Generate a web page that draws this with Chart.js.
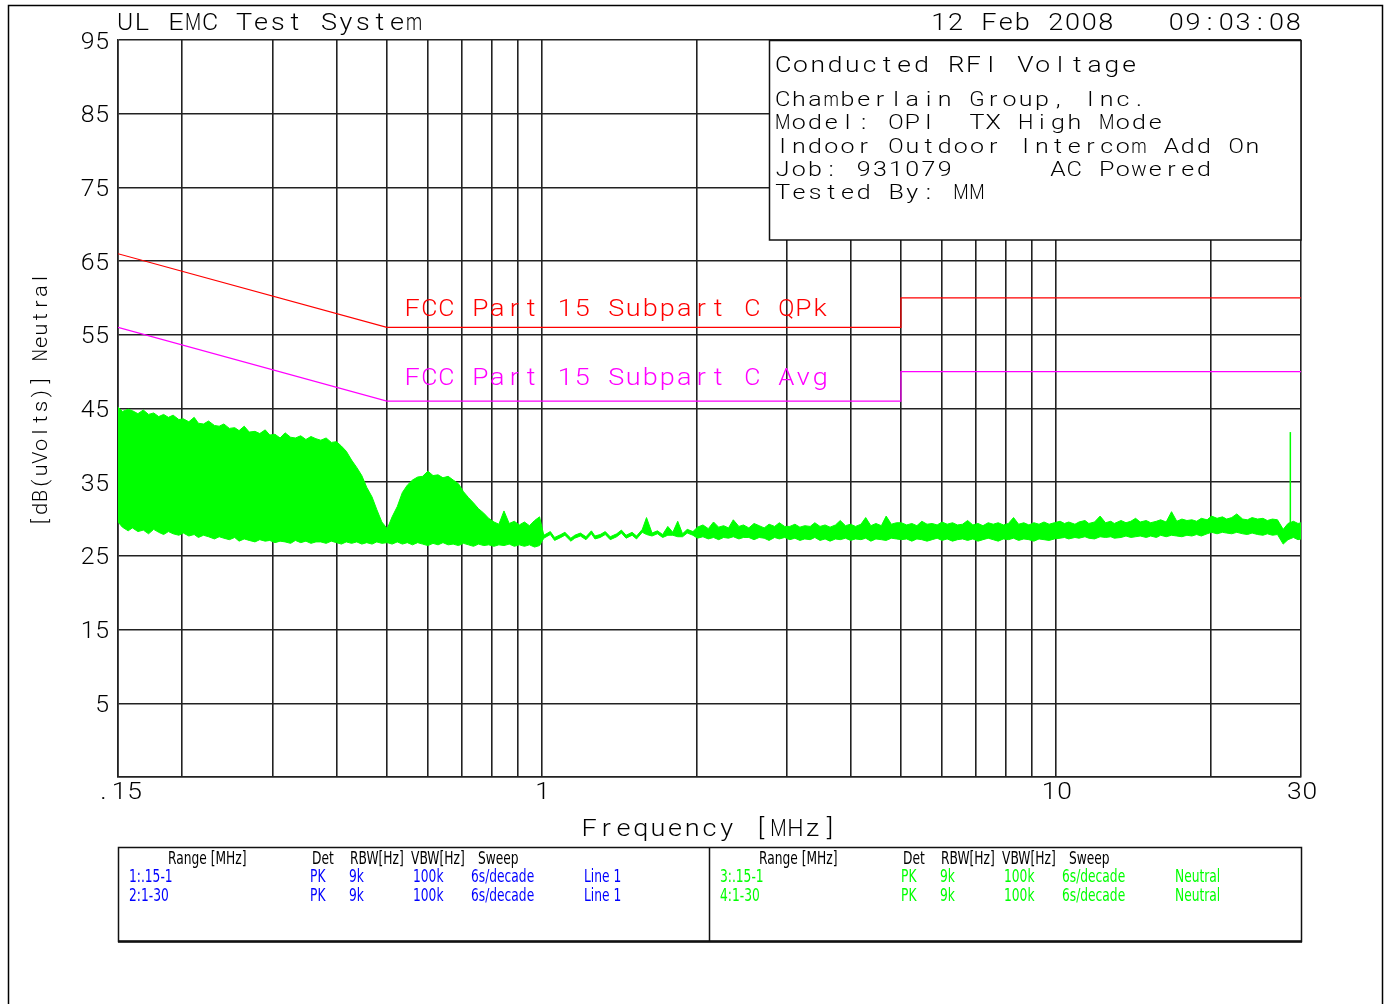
<!DOCTYPE html>
<html>
<head>
<meta charset="utf-8">
<title>Conducted RFI Voltage - Neutral</title>
<script src="https://cdn.jsdelivr.net/npm/chart.js@4.4.1/dist/chart.umd.min.js"></script>
<style>
  html, body { margin: 0; padding: 0; background: #fff; }
  canvas { display: block; }
</style>
</head>
<body>
<canvas id="emc" width="1393" height="1004"></canvas>
<script>
// ---- Scan data: neutral line, peak detector, envelope of the sweep (MHz / dBuV) ----
const freqMHz = [
  0.150, 0.153, 0.157, 0.160, 0.164, 0.168, 0.172, 0.176, 0.180, 0.184,
  0.188, 0.192, 0.197, 0.201, 0.206, 0.211, 0.215, 0.220, 0.225, 0.231,
  0.236, 0.241, 0.247, 0.253, 0.258, 0.264, 0.270, 0.277, 0.283, 0.290,
  0.296, 0.303, 0.310, 0.317, 0.325, 0.332, 0.340, 0.348, 0.356, 0.364,
  0.372, 0.381, 0.390, 0.399, 0.408, 0.417, 0.427, 0.437, 0.447, 0.457,
  0.468, 0.478, 0.489, 0.501, 0.512, 0.524, 0.536, 0.548, 0.561, 0.574,
  0.587, 0.601, 0.615, 0.629, 0.643, 0.658, 0.673, 0.689, 0.705, 0.721,
  0.737, 0.754, 0.772, 0.789, 0.808, 0.826, 0.845, 0.865, 0.885, 0.905,
  0.926, 0.947, 0.969, 0.991,
  1.01, 1.04, 1.06, 1.09, 1.11, 1.14, 1.16, 1.19, 1.22, 1.25,
  1.27, 1.30, 1.33, 1.36, 1.40, 1.43, 1.46, 1.50, 1.53, 1.57,
  1.60, 1.64, 1.68, 1.72, 1.76, 1.80, 1.84, 1.88, 1.92, 1.97,
  2.01, 2.06, 2.11, 2.16, 2.21, 2.26, 2.31, 2.36, 2.42, 2.47,
  2.53, 2.59, 2.65, 2.71, 2.77, 2.84, 2.90, 2.97,
  3.04, 3.11, 3.18, 3.25, 3.33, 3.40, 3.48, 3.56, 3.64, 3.73,
  3.81, 3.90, 3.99, 4.08, 4.18, 4.27, 4.37, 4.47, 4.58, 4.68,
  4.79, 4.90,
  5.01, 5.13, 5.25, 5.37, 5.49, 5.62, 5.75, 5.88, 6.01, 6.15,
  6.30, 6.44, 6.59, 6.74, 6.90, 7.06, 7.22, 7.39, 7.56, 7.73,
  7.91, 8.09, 8.28, 8.47, 8.67, 8.87, 9.07, 9.28, 9.49, 9.71,
  9.94,
  10.2, 10.4, 10.6, 10.9, 11.1, 11.4, 11.6, 11.9, 12.2, 12.5,
  12.8, 13.0, 13.4, 13.7, 14.0, 14.3, 14.6, 15.0, 15.3, 15.7,
  16.0, 16.4, 16.8, 17.2, 17.6, 18.0, 18.4, 18.8, 19.2, 19.7,
  20.1, 20.6, 21.1, 21.5, 22.0, 22.5, 23.1, 23.6, 24.1, 24.7,
  25.3, 25.8, 26.4, 27.0, 27.7, 28.3, 29.0, 29.6, 30.0
];

// upper edge of the peak sweep
const neutralHigh = [
  45.2, 44.6, 44.9, 44.7, 44.3, 44.8, 44.2, 44.4, 43.9, 44.2,
  43.8, 44.1, 43.5, 43.6, 43.2, 43.8, 43.0, 42.9, 43.3, 42.7,
  42.6, 42.9, 42.3, 42.4, 42.0, 42.6, 41.8, 41.9, 41.6, 42.1,
  41.4, 41.5, 41.0, 41.7, 41.1, 41.0, 41.3, 40.8, 41.2, 40.9,
  40.7, 41.0, 40.4, 40.5, 39.9, 39.2, 38.0, 37.0, 35.9, 34.3,
  33.0, 31.3, 29.6, 28.7, 30.3, 31.7, 33.6, 34.6, 35.3, 35.7,
  35.8, 36.5, 35.9, 36.0, 35.6, 35.8, 35.3, 34.8, 33.7, 32.9,
  32.2, 31.4, 30.8, 30.1, 29.6, 29.3, 31.1, 29.4, 29.7, 29.2,
  29.6, 29.1, 29.8, 30.3,
  27.8, 28.3, 27.5, 27.9, 28.2, 27.4, 27.8, 28.1, 27.6, 28.4,
  27.7, 27.9, 28.3, 27.6, 28.0, 28.5, 27.8, 28.2, 27.7, 28.6,
  30.2, 28.1, 28.4, 27.9, 29.0, 28.2, 29.7, 28.0, 28.6, 28.3,
  28.9, 29.2, 28.7, 29.6, 28.9, 29.1, 28.8, 29.9, 29.0, 29.2,
  28.8, 29.4, 29.1, 28.8, 29.3, 29.0, 29.5, 29.0,
  29.0, 29.3, 28.9, 29.1, 29.0, 29.5, 29.0, 29.2, 28.9, 29.2,
  29.8, 29.1, 29.3, 29.0, 29.3, 30.2, 29.1, 29.4, 29.1, 30.4,
  29.3, 29.5,
  29.5, 29.2, 29.4, 29.1, 29.7, 29.3, 29.4, 29.2, 29.6, 29.3,
  29.5, 29.2, 29.3, 29.8, 29.2, 29.4, 29.1, 29.5, 29.3, 29.5,
  29.2, 29.4, 30.2, 29.3, 29.5, 29.2, 29.5, 29.3, 29.6, 29.3,
  29.5,
  29.7, 29.4, 29.6, 29.3, 29.6, 29.8, 29.4, 29.6, 30.4, 29.5,
  29.7, 29.4, 29.8, 29.5, 29.7, 30.1, 29.6, 29.8, 29.5, 29.7,
  29.9, 29.6, 31.0, 29.7, 30.0, 29.8, 29.9, 29.7, 30.1, 29.9,
  30.4, 30.1, 30.3, 30.0, 30.2, 30.7, 30.0, 29.9, 30.2, 30.0,
  30.1, 29.8, 30.0, 29.9, 28.6, 29.4, 29.7, 29.4, 29.5
];

// lower edge of the peak sweep
const neutralLow = [
  29.6, 28.9, 28.4, 28.8, 28.3, 28.5, 28.0, 28.6, 28.2, 27.9,
  28.3, 28.0, 27.8, 28.1, 27.7, 27.9, 27.5, 27.8, 27.6, 27.3,
  27.6, 27.4, 27.2, 27.5, 27.0, 27.3, 27.1, 26.9, 27.2, 27.0,
  27.1, 26.8, 27.0, 26.9, 26.7, 27.1, 26.8, 27.0, 26.7, 26.9,
  26.9, 26.7, 27.0, 26.8, 26.6, 26.9, 26.7, 26.9, 26.6, 26.8,
  26.6, 26.9, 26.7, 26.8, 26.6, 26.9, 26.6, 26.8, 26.5, 26.8,
  26.6, 26.4, 26.7, 26.5, 26.8, 26.5, 26.6, 26.4, 26.7, 26.5,
  26.3, 26.6, 26.4, 26.5, 26.3, 26.5, 26.4, 26.6, 26.3, 26.5,
  26.3, 26.5, 26.2, 26.4,
  27.4, 27.9, 27.1, 27.5, 27.8, 27.0, 27.4, 27.7, 27.2, 28.0,
  27.3, 27.5, 27.9, 27.2, 27.6, 28.1, 27.4, 27.8, 27.3, 28.2,
  27.9, 27.7, 28.0, 27.5, 27.8, 27.8, 27.6, 27.6, 28.1, 27.8,
  27.4, 27.6, 27.3, 27.5, 27.2, 27.5, 27.4, 27.6, 27.3, 27.5,
  27.5, 27.2, 27.5, 27.4, 27.1, 27.5, 27.3, 27.5,
  27.2, 27.4, 27.1, 27.3, 27.2, 27.5, 27.1, 27.3, 27.0, 27.3,
  27.2, 27.4, 27.1, 27.3, 27.2, 27.4, 27.0, 27.3, 27.2, 27.1,
  27.4, 27.3,
  27.2, 27.3, 27.0, 27.3, 27.2, 27.0, 27.2, 27.4, 27.1, 27.3,
  27.0, 27.2, 27.3, 27.1, 27.3, 27.0, 27.2, 27.4, 27.2, 27.0,
  27.3, 27.2, 27.4, 27.1, 27.3, 27.2, 27.0, 27.3, 27.2, 27.1,
  27.3,
  27.4, 27.5, 27.3, 27.5, 27.4, 27.6, 27.4, 27.3, 27.6, 27.5,
  27.6, 27.4, 27.5, 27.7, 27.5, 27.6, 27.7, 27.5, 27.7, 27.5,
  27.8, 27.6, 27.8, 27.7, 27.6, 27.8, 27.7, 27.9, 27.7, 28.0,
  28.2, 28.0, 28.2, 28.1, 28.0, 28.2, 28.0, 27.9, 28.1, 27.9,
  27.8, 28.0, 27.8, 27.9, 26.6, 27.2, 27.5, 27.2, 27.3
];

// narrow carrier spike near the top of the band
const spikeFreq = [28.6, 28.6];
const spikeLevel = [28.0, 41.8];

// ---- Limit lines ----
const limitFreq = [0.15, 0.5, 5, 5, 30];
const qpkLimit = [66, 56, 56, 60, 60];
const avgLimit = [56, 46, 46, 50, 50];

// ---- Axes ----
const yTickValues = [-5, 5, 15, 25, 35, 45, 55, 65, 75, 85, 95];
const xGridFreqs = [0.15, 0.2, 0.3, 0.4, 0.5, 0.6, 0.7, 0.8, 0.9, 1,
                    2, 3, 4, 5, 6, 7, 8, 9, 10, 20, 30];
const xTickFreqs = [0.15, 1, 10, 30];
const xTickLabels = ['.15', '1', '10', '30'];

// ---- Header / info text ----
const headerLeft = 'UL EMC Test System';
const headerDate = '12 Feb 2008';
const headerTime = '09:03:08';
const infoTitle = 'Conducted RFI Voltage';
const infoLines = [
  'Chamberlain Group, Inc.',
  'Model: OPI  TX High Mode',
  'Indoor Outdoor Intercom Add On',
  'Job: 931079      AC Powered',
  'Tested By: MM'
];
const yTitle = '[dB(uVolts)] Neutral';
const xTitle = 'Frequency [MHz]';
const qpkLabel = 'FCC Part 15 Subpart C QPk';
const avgLabel = 'FCC Part 15 Subpart C Avg';

// ---- Scan settings table ----
const tableHeader = ['Range [MHz]', 'Det', 'RBW[Hz]', 'VBW[Hz]', 'Sweep'];
const tableLeftRows = [
  ['1:.15-1', 'PK', '9k', '100k', '6s/decade', 'Line 1'],
  ['2:1-30', 'PK', '9k', '100k', '6s/decade', 'Line 1']
];
const tableRightRows = [
  ['3:.15-1', 'PK', '9k', '100k', '6s/decade', 'Neutral'],
  ['4:1-30', 'PK', '9k', '100k', '6s/decade', 'Neutral']
];

const PLOT_FONT = 'Roboto, "DejaVu Sans", sans-serif';
const COND = '"DejaVu Sans", sans-serif';
const GREEN = '#00ff00';

function pts(xs, ys) { return xs.map((x, i) => ({ x: x, y: ys[i] })); }

// Text helper. With o.pitch every character sits in a fixed-width cell,
// like a pen-plotter font; o.sx stretches the glyphs horizontally and
// wide glyphs are squeezed to fit their cell.
function drawText(ctx, s, x, y, o) {
  ctx.save();
  ctx.font = (o.weight || '300') + ' ' + o.size + 'px ' + (o.family || PLOT_FONT);
  ctx.fillStyle = o.color || '#000';
  ctx.textBaseline = 'alphabetic';
  ctx.textAlign = 'left';
  const sx = o.sx || 1;
  const chars = Array.from(s);
  const cell = o.pitch ? o.pitch * 0.82 : 0;
  let total;
  if (o.pitch) {
    total = (chars.length - 1) * o.pitch + cell;
  } else {
    total = ctx.measureText(s).width * sx;
  }
  let x0 = x;
  if (o.align === 'right') x0 = x - total;
  else if (o.align === 'center') x0 = x - total / 2;
  ctx.translate(x0, y);
  if (o.pitch) {
    chars.forEach((c, i) => {
      if (c === ' ') return;
      const raw = ctx.measureText(c).width;
      const k = Math.min(sx, (o.pitch * 0.95) / raw);
      const w = raw * k;
      ctx.save();
      ctx.translate(i * o.pitch + (cell - w) / 2, 0);
      ctx.scale(k, 1);
      ctx.fillText(c, 0, 0);
      ctx.restore();
    });
  } else {
    ctx.scale(sx, 1);
    ctx.fillText(s, 0, 0);
  }
  ctx.restore();
}

const decorPlugin = {
  id: 'decor',
  afterDraw(chart) {
    const ctx = chart.ctx;
    const xs = chart.scales.x, ys = chart.scales.y;
    const area = chart.chartArea;

    // page frame
    ctx.save();
    ctx.strokeStyle = '#000';
    ctx.lineWidth = 1.5;
    ctx.beginPath();
    ctx.moveTo(8.5, 1004); ctx.lineTo(8.5, 5.5); ctx.lineTo(1382.5, 5.5); ctx.lineTo(1382.5, 1004);
    ctx.stroke();
    ctx.restore();

    const big = { size: 23.5, sx: 1.15, pitch: 17 };

    // header
    drawText(ctx, headerLeft, 118, 30, big);
    drawText(ctx, headerDate, 932, 30, Object.assign({}, big, { pitch: 16.7 }));
    drawText(ctx, headerTime, 1300, 30, Object.assign({}, big, { pitch: 16.7, align: 'right' }));

    // y tick labels
    yTickValues.forEach(v => {
      if (v === -5) return;
      drawText(ctx, String(v), 108, ys.getPixelForValue(v) + 8.5, { size: 24.5, sx: 1.1, pitch: 14.5, align: 'right' });
    });
    // x tick labels
    xTickFreqs.forEach((f, i) => {
      drawText(ctx, xTickLabels[i], xs.getPixelForValue(f) + 1, 799, { size: 24, sx: 1.1, pitch: 15.5, align: 'center' });
    });

    // axis titles
    drawText(ctx, xTitle, (area.left + area.right) / 2, 836, Object.assign({}, big, { pitch: 17.2, align: 'center' }));
    ctx.save();
    ctx.translate(47, 400);
    ctx.rotate(-Math.PI / 2);
    drawText(ctx, yTitle, 0, 0, { size: 21, sx: 1.05, pitch: 12.8, align: 'center' });
    ctx.restore();

    // limit labels
    drawText(ctx, qpkLabel, xs.getPixelForValue(0.543), ys.getPixelForValue(57.55), Object.assign({}, big, { color: '#ff0000' }));
    drawText(ctx, avgLabel, xs.getPixelForValue(0.543), ys.getPixelForValue(48.2), Object.assign({}, big, { color: '#ff00ff' }));

    // info box
    ctx.save();
    ctx.fillStyle = '#fff';
    ctx.strokeStyle = '#111';
    ctx.lineWidth = 1.5;
    ctx.fillRect(769, 40, 532, 200);
    ctx.strokeRect(769.5, 40.5, 531.5, 199.5);
    ctx.restore();
    drawText(ctx, infoTitle, 776, 72, { size: 22, sx: 1.2, pitch: 17.3 });
    infoLines.forEach((s, i) => {
      drawText(ctx, s, 776, 106 + i * 23.3, { size: 20, sx: 1.25, pitch: 16.2 });
    });

    // settings table
    ctx.save();
    ctx.strokeStyle = '#111';
    ctx.lineWidth = 1.5;
    ctx.strokeRect(118.5, 847.5, 1183, 94);
    ctx.beginPath(); ctx.moveTo(709.5, 847.5); ctx.lineTo(709.5, 941.5); ctx.stroke();
    ctx.lineWidth = 2.5;
    ctx.beginPath(); ctx.moveTo(118, 941.5); ctx.lineTo(1302, 941.5); ctx.stroke();
    ctx.restore();
    const headX = [168, 312, 350, 411, 478];
    const rowX = [129, 310, 349, 413, 471, 584];
    const tOpt = { size: 17.5, sx: 0.7, family: COND, weight: 'normal' };
    [0, 591].forEach((dx, half) => {
      tableHeader.forEach((s, i) => drawText(ctx, s, headX[i] + dx, 864, tOpt));
      const rows = half === 0 ? tableLeftRows : tableRightRows;
      const col = half === 0 ? '#0000ff' : GREEN;
      rows.forEach((r, j) => {
        r.forEach((s, i) => drawText(ctx, s, rowX[i] + dx, 882 + j * 19, Object.assign({}, tOpt, { color: col })));
      });
    });
  }
};

new Chart(document.getElementById('emc'), {
  type: 'line',
  data: {
    datasets: [
      { label: 'Neutral high', data: pts(freqMHz, neutralHigh), borderColor: GREEN, borderWidth: 1, pointRadius: 0, fill: false, tension: 0 },
      { label: 'Neutral low', data: pts(freqMHz, neutralLow), borderColor: GREEN, borderWidth: 1, pointRadius: 0, fill: '-1', backgroundColor: GREEN, tension: 0 },
      { label: 'Spike', data: pts(spikeFreq, spikeLevel), borderColor: GREEN, borderWidth: 1.5, pointRadius: 0, fill: false },
      { label: 'QPk limit', data: pts(limitFreq, qpkLimit), borderColor: '#ff0000', borderWidth: 1.2, pointRadius: 0, fill: false },
      { label: 'Avg limit', data: pts(limitFreq, avgLimit), borderColor: '#ff00ff', borderWidth: 1.2, pointRadius: 0, fill: false }
    ]
  },
  options: {
    responsive: false,
    animation: false,
    devicePixelRatio: 1,
    layout: { padding: { left: 78, right: 92, top: 40, bottom: 187 } },
    plugins: { legend: { display: false }, tooltip: { enabled: false } },
    scales: {
      x: {
        type: 'logarithmic',
        min: 0.15,
        max: 30,
        afterBuildTicks: s => { s.ticks = xGridFreqs.map(v => ({ value: v })); },
        afterFit: s => { s.height = 40; },
        ticks: { display: false },
        grid: { color: '#222', lineWidth: 1.6, drawTicks: false },
        border: { display: true, color: '#222', width: 1.6 }
      },
      y: {
        type: 'linear',
        min: -5,
        max: 95,
        afterBuildTicks: s => { s.ticks = yTickValues.map(v => ({ value: v })); },
        afterFit: s => { s.width = 40; },
        ticks: { display: false },
        grid: { color: '#222', lineWidth: 1.6, drawTicks: false },
        border: { display: true, color: '#222', width: 1.6 }
      }
    }
  },
  plugins: [decorPlugin]
});
</script>
</body>
</html>
